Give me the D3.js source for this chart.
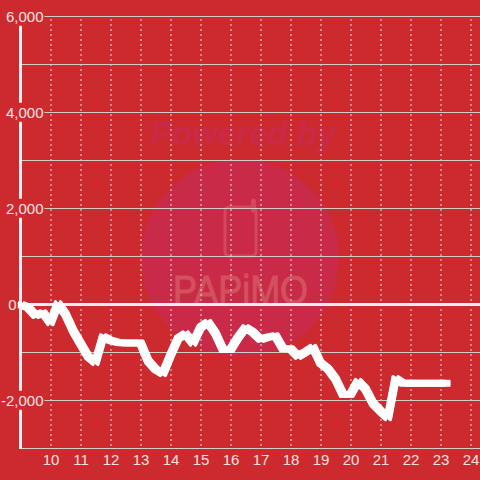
<!DOCTYPE html>
<html>
<head>
<meta charset="utf-8">
<script src="https://d3js.org/d3.v7.min.js"></script>
<style>
    html, body { margin: 0; padding: 0; background: #cc2a2e; }
    svg { display: block; }
    text { font-family: "Liberation Sans", sans-serif; }
</style>
</head>
<body>
<div id="chart"></div>
<script>
// quarter-hour readings, 9:00 to 23:15
const hours = [
    9, 9.25, 9.5, 9.75, 10, 10.25, 10.5, 10.75, 11, 11.25, 11.5, 11.75,
    12, 12.25, 12.5, 12.75, 13, 13.25, 13.5, 13.75, 14, 14.25, 14.5, 14.75,
    15, 15.25, 15.5, 15.75, 16, 16.25, 16.5, 16.75, 17, 17.25, 17.5, 17.75,
    18, 18.25, 18.5, 18.75, 19, 19.25, 19.5, 19.75, 20, 20.25, 20.5, 20.75,
    21, 21.25, 21.5, 21.75, 22, 22.25, 22.5, 22.75, 23, 23.25
];
const values = [
    0, -60, -230, -170, -380, 20, -200, -540, -810, -1080, -1210, -670,
    -750, -790, -800, -800, -800, -1170, -1350, -1440, -1060, -710, -610, -810,
    -480, -370, -600, -940, -940, -690, -480, -580, -730, -680, -650, -920,
    -920, -1080, -990, -890, -1220, -1340, -1550, -1875, -1875, -1600, -1760, -2060,
    -2220, -2360, -1540, -1640, -1640, -1640, -1640, -1640, -1640, -1640
];
const xTicks = [10, 11, 12, 13, 14, 15, 16, 17, 18, 19, 20, 21, 22, 23, 24];
const yGrid = [6000, 5000, 4000, 3000, 2000, 1000, -1000, -2000, -3000];
const yLabels = [6000, 4000, 2000, 0, -2000];

const width = 480, height = 480;
const svg = d3.select("#chart").append("svg")
    .attr("width", width)
    .attr("height", height);

const x = d3.scaleLinear().domain([9, 24]).range([20.5, 470.5]);
const y = d3.scaleLinear().domain([6000, -3000]).range([16.5, 448.5]);

svg.append("rect").attr("width", width).attr("height", height).attr("fill", "#cc2a2e");

// watermark behind the chart
const mark = svg.append("g");
mark.append("circle").attr("cx", 240).attr("cy", 258).attr("r", 99).attr("fill", "#c92a47");
mark.append("text")
    .attr("x", 243).attr("y", 145)
    .attr("text-anchor", "middle")
    .attr("font-size", 33).attr("font-weight", "bold").attr("font-style", "italic")
    .attr("font-family", "'DejaVu Sans', sans-serif")
    .attr("fill", "#c82a47")
    .text("Powered by");
mark.append("rect")
    .attr("x", 225).attr("y", 207).attr("width", 31).attr("height", 49).attr("rx", 4)
    .attr("fill", "none").attr("stroke", "#d4485c").attr("stroke-width", 3);
mark.append("line")
    .attr("x1", 253.5).attr("y1", 201).attr("x2", 253.5).attr("y2", 210)
    .attr("stroke", "#d4485c").attr("stroke-width", 5).attr("stroke-linecap", "round");
mark.append("text")
    .attr("x", 173).attr("y", 304)
    .attr("textLength", 135).attr("lengthAdjust", "spacingAndGlyphs")
    .attr("font-size", 41)
    .attr("fill", "#d4505f")
    .attr("stroke", "#d4505f")
    .attr("stroke-width", 1)
    .text("PAPiMO");

// vertical dotted grid
const xAxis = d3.axisBottom(x)
    .tickValues(xTicks)
    .tickSize(-430)
    .tickPadding(6)
    .tickFormat(d3.format("d"));
const gx = svg.append("g").attr("transform", "translate(0,446)").call(xAxis);
gx.select(".domain").remove();
gx.selectAll("line")
    .attr("stroke", "#d8e0e0")
    .attr("stroke-dasharray", "2,3");
gx.selectAll("text")
    .attr("font-size", 15)
    .attr("dy", "0.85em")
    .attr("fill", "#f7e2e2");

// horizontal grid lines
svg.append("g").selectAll("line")
    .data(yGrid)
    .join("line")
    .attr("x1", 22).attr("x2", width)
    .attr("y1", d => y(d)).attr("y2", d => y(d))
    .attr("stroke", "#d2cccc");

// zero line and left axis
svg.append("line")
    .attr("x1", 20).attr("x2", width)
    .attr("y1", y(0)).attr("y2", y(0))
    .attr("stroke", "#f4eeee").attr("stroke-width", 3);
svg.append("line")
    .attr("x1", x(9)).attr("x2", x(9))
    .attr("y1", y(6000)).attr("y2", y(-3000) + 0.5)
    .attr("stroke", "#f4eeee").attr("stroke-width", 3);

// y labels sit on a patch of background colour, the 0 is pushed left of the axis
const fmt = d3.format(",");
const yLabel = svg.append("g").selectAll("g")
    .data(yLabels)
    .join("g")
    .attr("transform", d => `translate(${d === 0 ? 16.5 : 43.5},${y(d)})`);
yLabel.append("text")
    .attr("text-anchor", "end")
    .attr("dy", "0.35em")
    .attr("font-size", 15)
    .attr("fill", "#f7e2e2")
    .text(d => fmt(d).replace("−", "-"));
yLabel.each(function() {
    const g = d3.select(this);
    const box = g.select("text").node().getBBox();
    g.insert("rect", "text")
        .attr("x", box.x - 1).attr("y", box.y - 1)
        .attr("width", box.width + 2).attr("height", box.height + 2)
        .attr("fill", "#cc2a2e");
});

// the series: the original looks drawn with a wide flat pen, so stack offset copies
const line = d3.line()
    .x((d, i) => x(hours[i]))
    .y(d => y(d));
const penOffsets = [[0, 0], [-2.5, 0], [2.5, 0], [-2.5, -2], [2.5, -2], [-2.5, 2], [2.5, 2]];
svg.append("g").selectAll("path")
    .data(penOffsets)
    .join("path")
    .attr("transform", d => `translate(${d[0]},${d[1]})`)
    .attr("d", line(values))
    .attr("fill", "none")
    .attr("stroke", "#ffffff")
    .attr("stroke-width", 3)
    .attr("stroke-linecap", "butt")
    .attr("stroke-linejoin", "round");
</script>
</body>
</html>
